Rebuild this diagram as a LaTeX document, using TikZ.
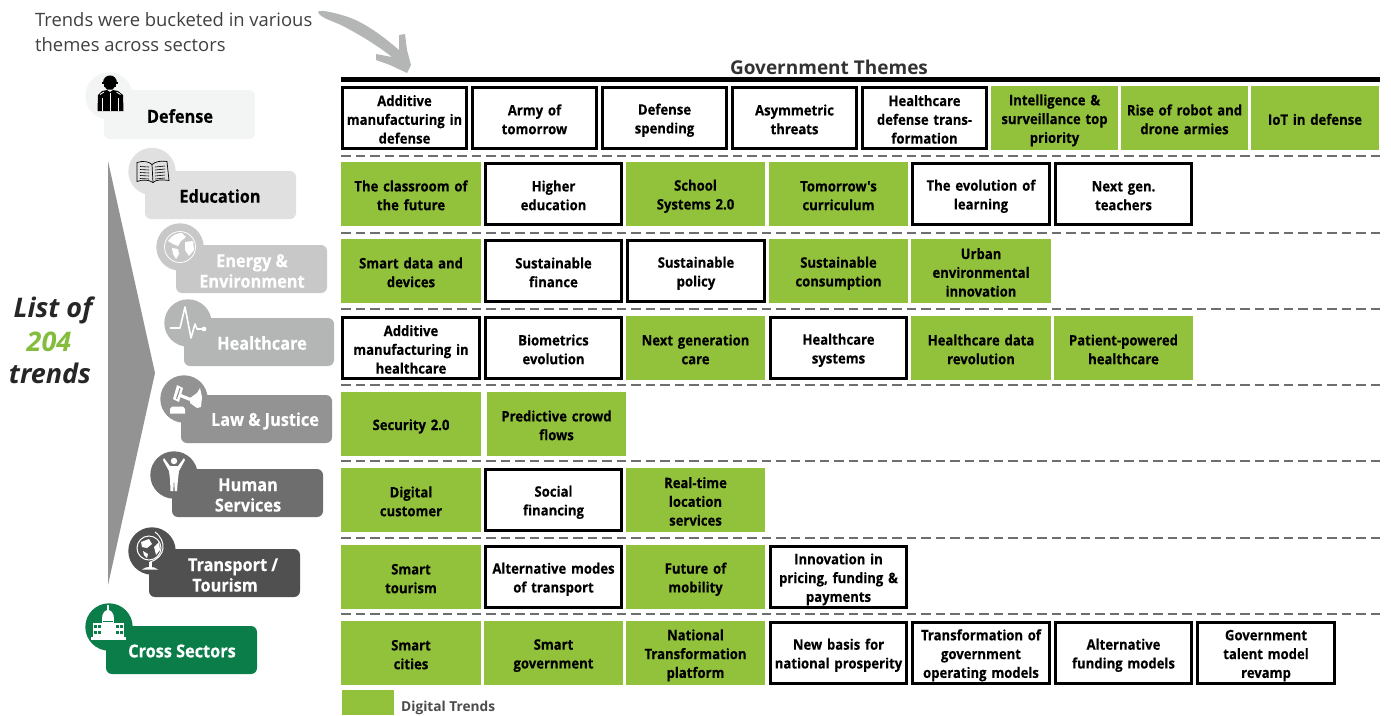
\documentclass[tikz,border=0pt]{standalone}
\usepackage{fontspec}
\setmainfont{Open Sans}
\newfontfamily\cellfont[FakeStretch=0.91,BoldFeatures={FakeBold=0.25}]{Open Sans}
\definecolor{dgreen}{HTML}{92C13C}
\definecolor{lgreen}{HTML}{84BD3C}
\definecolor{dashg}{HTML}{6D6E70}
\definecolor{arrowg}{HTML}{B4B6B5}
\definecolor{secA}{HTML}{F3F5F5}
\definecolor{secB}{HTML}{E0E0E0}
\definecolor{secC}{HTML}{C8C8C8}
\definecolor{secD}{HTML}{B4B6B5}
\definecolor{secE}{HTML}{939393}
\definecolor{secF}{HTML}{6D6E6D}
\definecolor{secG}{HTML}{505050}
\definecolor{secH}{HTML}{0A7D49}
\tikzset{
  cellbase/.style={anchor=center,align=center,inner sep=0pt,text=black,
    font=\cellfont\fontsize{14.4}{18.8}\selectfont\bfseries},
  gbox/.style={cellbase,fill=dgreen},
  wbox/.style={cellbase,draw=black,line width=3pt,fill=white},
  seclabel/.style={font=\cellfont\fontsize{17.9}{20.5}\selectfont\bfseries,align=center,inner sep=0pt,text=white},
  secbox/.style={rounded corners=6pt},
  rowsep/.style={draw=dashg,line width=2.2pt,dash pattern=on 9.5pt off 5pt},
  trendtxt/.style={font=\fontsize{27}{31}\selectfont\bfseries\itshape,inner sep=0pt,text=black!85},
}
\newcommand{\celltxt}[1]{\rule{0pt}{15.6pt}#1\rule[-2pt]{0pt}{2pt}}
% \gc/\wc: name, x1, x2, top y, text
\newcommand{\gc}[5]{\node[gbox,minimum width={(#3-#2)*1pt},minimum height=64pt,text width={(#3-#2-2)*1pt}] (#1) at ({(#2+#3)/2},{#4+32}) {\celltxt{#5}};}
\newcommand{\wc}[5]{\node[wbox,minimum width={(#3-#2-3)*1pt},minimum height=61pt,text width={(#3-#2-6)*1pt}] (#1) at ({(#2+#3)/2},{#4+32}) {\celltxt{#5}};}
\newcommand{\sector}[8]{% name, cx, cy, x1, x2, y1, y2, colour
  \fill[#8] (#2,#3) circle (23.7pt);
  \fill[#8,secbox] (#4,#6) rectangle (#5,#7);
  \coordinate (#1) at (#2,#3);}
\begin{document}
\begin{tikzpicture}[x=1pt,y=-1pt]
\useasboundingbox (0,0) rectangle (1391,715);
% annotation
\node[anchor=west,inner sep=0pt,align=left,text=black!75,font=\fontsize{18.4}{25}\selectfont] (note) at (35,32) {Trends were bucketed in various\\themes across sectors};
\fill[arrowg,line join=round] (318,12) .. controls (320,9) and (335,13) .. (345,16) .. controls (365,22) and (385,38) .. (399,50)
  -- (399,35) -- (405,34) -- (407,50) -- (411,65) -- (407,73) -- (390,65) -- (376,60) -- (376,54) -- (392,57)
  .. controls (378,46) and (362,36) .. (343,26) .. controls (333,21) and (320,18) .. (318,12) -- cycle;
% header
\node[font=\fontsize{19}{22}\selectfont\bfseries,text=black!80,inner sep=0pt] (gov) at (829,67) {Government Themes};
\coordinate (tl) at (341,79.5); \coordinate (tr) at (1380,79.5);
\draw[line width=5pt] (tl) -- (tr);
% row separators
\foreach \yy in {156,233,309,385,461,538,614}{
  \draw[rowsep] (341,\yy) -- (1380,\yy);
}
% Row 1
\wc{a1}{341}{468}{86}{Additive\\manufacturing in\\defense}
\wc{a2}{471}{598}{86}{Army of\\tomorrow}
\wc{a3}{601}{728}{86}{Defense\\spending}
\wc{a4}{731}{858}{86}{Asymmetric\\threats}
\wc{a5}{861}{988}{86}{Healthcare\\defense trans-\\formation}
\gc{a6}{991}{1118}{86}{Intelligence \&\\surveillance top\\priority}
\gc{a7}{1121}{1248}{86}{Rise of robot and\\drone armies}
\gc{a8}{1251}{1379}{86}{IoT in defense}
% Row 2
\gc{b1}{341}{481}{162}{The classroom of\\the future}
\wc{b2}{484}{623}{162}{Higher\\education}
\gc{b3}{626}{765}{162}{School\\Systems 2.0}
\gc{b4}{769}{908}{162}{Tomorrow's\\curriculum}
\wc{b5}{911}{1051}{162}{The evolution of\\learning}
\wc{b6}{1054}{1193}{162}{Next gen.\\teachers}
% Row 3
\gc{c1}{341}{481}{239}{Smart data and\\devices}
\wc{c2}{484}{623}{239}{Sustainable\\finance}
\wc{c3}{626}{766}{239}{Sustainable\\policy}
\gc{c4}{769}{908}{239}{Sustainable\\consumption}
\gc{c5}{911}{1051}{239}{Urban\\environmental\\innovation}
% Row 4
\wc{d1}{341}{481}{316}{Additive\\manufacturing in\\healthcare}
\wc{d2}{484}{623}{316}{Biometrics\\evolution}
\gc{d3}{626}{765}{316}{Next generation\\care}
\wc{d4}{769}{908}{316}{Healthcare\\systems}
\gc{d5}{911}{1051}{316}{Healthcare data\\revolution}
\gc{d6}{1054}{1193}{316}{Patient-powered\\healthcare}
% Row 5
\gc{e1}{341}{481}{392}{Security 2.0}
\gc{e2}{487}{626}{392}{Predictive crowd\\flows}
% Row 6
\gc{f1}{341}{481}{468}{Digital\\customer}
\wc{f2}{484}{623}{468}{Social\\financing}
\gc{f3}{626}{765}{468}{Real-time\\location\\services}
% Row 7
\gc{g1}{341}{481}{545}{Smart\\tourism}
\wc{g2}{484}{623}{545}{Alternative modes\\of transport}
\gc{g3}{626}{765}{545}{Future of\\mobility}
\wc{g4}{769}{908}{545}{Innovation in\\pricing, funding \&\\payments}
% Row 8
\gc{h1}{341}{481}{621}{Smart\\cities}
\gc{h2}{484}{623}{621}{Smart\\government}
\gc{h3}{626}{765}{621}{National\\Transformation\\platform}
\wc{h4}{769}{908}{621}{New basis for\\national prosperity}
\wc{h5}{911}{1051}{621}{Transformation of\\government\\operating models}
\wc{h6}{1054}{1193}{621}{Alternative\\funding models}
\wc{h7}{1196}{1336}{621}{Government\\talent model\\revamp}
% legend
\fill[dgreen] (342,690) rectangle (394,715);
\node[anchor=west,inner sep=0pt,font=\fontsize{13.7}{15}\selectfont\bfseries,text=black!70] (leg) at (401,708) {Digital Trends};
% left wedge and text
\fill[secE] (108,161) -- (155,373) -- (108,585) -- cycle;
\node[trendtxt] (l1) at (53,310) {List of};
\node[trendtxt,text=lgreen] (l2) at (49,342) {204};
\node[trendtxt] (l3) at (50,373) {trends};
% sectors
\sector{s1}{109}{96}{104}{255}{90}{139}{secA}
\sector{s2}{152}{171.5}{145}{296}{171}{219}{secB}
\sector{s3}{180}{247}{176}{327}{245}{293}{secC}
\sector{s4}{188}{323}{184}{334}{318}{366}{secD}
\sector{s5}{184}{399}{181}{332}{395}{443}{secE}
\sector{s6}{174}{475}{172}{323}{469}{517}{secF}
\sector{s7}{152}{551}{149}{300}{549}{597}{secG}
\sector{s8}{109}{627}{106}{257}{626}{674}{secH}
\node[seclabel,text=black] (t1) at (180,116) {Defense};
\node[seclabel,text=black] (t2) at (220,196) {Education};
\node[seclabel] (t3) at (252,271) {Energy \&\\Environment};
\node[seclabel] (t4) at (262,343) {Healthcare};
\node[seclabel] (t5) at (265,421) {Law \& Justice};
\node[seclabel] (t6) at (248,495) {Human\\Services};
\node[seclabel] (t7) at (225,575) {\hspace*{16pt}Transport /\\Tourism};
\node[seclabel] (t8) at (182,651) {Cross Sectors};
% icon: soldier
\begin{scope}[shift={(s1)}]
  \fill[black] (-6.5,-13.5) .. controls (-6.5,-23) and (8,-23) .. (8,-13.5) -- cycle;
  \fill[black] (-7,-14) rectangle (8.5,-12);
  \fill[black] (-5.5,-12) rectangle (7,-9.5);
  \fill[black] (-4.5,-9.5) -- (6,-9.5) -- (3.5,-6.5) -- (-2,-6.5) -- cycle;
  \fill[black] (-11,-1) -- (-7,-5) -- (-2,-6) -- (1,-4) -- (4,-6) -- (9,-5) -- (14,-1) -- (14.5,15) -- (-11.5,15) -- cycle;
  \draw[white,line width=.8pt] (1,-3) -- (1,15);
  \draw[white,line width=.8pt] (-9,-1.5) -- (-5,-4);
  \draw[white,line width=.8pt] (11.5,-1.5) -- (7.5,-4);
  \draw[white,line width=.7pt] (-7,2) -- (-7,15);
  \draw[white,line width=.7pt] (9.5,2) -- (9.5,15);
\end{scope}
% icon: book
\begin{scope}[shift={(s2)},black]
  \draw[line width=.7pt,fill=secB] (-15,-9) .. controls (-9,-11) and (-3,-10) .. (0,-7) .. controls (3,-10) and (10,-11) .. (15,-10)
     -- (17,9) .. controls (10,8) and (4,8) .. (1,11) .. controls (-3,8) and (-10,8) .. (-15,10) -- cycle;
  \draw[line width=.7pt] (0,-7) -- (1,11);
  \foreach \dy in {-5,-2,1,4,7}{
    \draw[line width=.6pt] (-12,\dy) -- (-3,\dy+.5);
    \draw[line width=.6pt] (3,\dy+.5) -- (13,\dy-.5);
  }
\end{scope}
% icon: globe (energy)
\begin{scope}[shift={(s3)}]
  \draw[white,line width=.8pt,fill=secC] (0,0) circle (15.5pt);
  \fill[white] (-12,-6) .. controls (-8,-12) and (-3,-14) .. (2,-14) -- (6,-10) -- (1,-6) -- (-2,-1) -- (-7,-3) -- cycle;
  \fill[white] (-8,1) -- (-2,2) -- (-1,7) -- (-4,12) -- (-7,7) -- cycle;
  \fill[white] (5,-5) -- (13,-6) -- (14,3) -- (9,9) -- (5,3) -- cycle;
\end{scope}
% icon: ECG
\begin{scope}[shift={(s4)}]
  \draw[white,line width=1.6pt,line join=round] (-18,5) -- (-8,5) -- (-3,-16) -- (3,15) -- (7,1) -- (9,6) -- (15,6);
  \fill[white] (16,6) circle (2.4pt);
\end{scope}
% icon: gavel
\begin{scope}[shift={(s5)}]
  \fill[white] (-14,10) -- (-12,7.5) -- (-1,7.5) -- (1,10) -- (1,14.5) -- (-14,14.5) -- cycle;
  \fill[white] (-7,-14) -- (-1,-11) -- (-5,3) -- (-11,0) -- cycle;
  \fill[secE] (-4.5,-11) -- (-3.5,-10.5) -- (-7,0) -- (-8,-.5) -- cycle;
  \fill[white] (-3,-5) -- (7,-1) -- (6,2) -- (-4,-2) -- cycle;
  \fill[white] (6,-1) -- (13,-6) -- (16,-11) -- (18,-2) -- (17,8) -- (13,9) -- (6,4) -- cycle;
\end{scope}
% icon: person
\begin{scope}[shift={(s6)}]
  \fill[white] (0,-14) circle (3.2pt);
  \fill[white] (-10,-17) -- (-4,-9) -- (4,-9) -- (10,-17) -- (11,-15) -- (5,-4) -- (4,4) -- (3,16) -- (0.7,16) -- (0,3) -- (-0.7,16) -- (-3.5,16) -- (-4,4) -- (-5,-4) -- (-11,-15) -- cycle;
\end{scope}
% icon: globe on stand
\begin{scope}[shift={(s7)}]
  \draw[white,line width=1pt] (-3,-3) circle (12pt);
  \draw[white,line width=1pt] (3,-19) .. controls (15,-10) and (14,6) .. (-2,11);
  \fill[white] (-11,-9) -- (-3,-12) -- (0,-7) -- (-5,-3) -- (-10,-4) -- cycle;
  \fill[white] (2,-4) -- (7,-9) -- (8,-1) -- (4,4) -- cycle;
  \fill[white] (-9,0) -- (-4,3) -- (-5,7) -- (-8,4) -- cycle;
  \fill[white] (-3.5,11) rectangle (-0.5,16);
  \fill[white] (-10,18.5) .. controls (-6,15) and (2,15) .. (6,18.5) -- cycle;
\end{scope}
% icon: capitol
\begin{scope}[shift={(s8)}]
  \fill[white] (-1.6,-22) rectangle (-0.4,-15);
  \fill[white] (-7,-8) .. controls (-7,-14) and (-4,-17) .. (-1,-17) .. controls (2,-17) and (5,-14) .. (5,-8) -- cycle;
  \fill[white] (-7,-8) rectangle (5,-3);
  \fill[secH] (-6,-6.5) rectangle (4,-5);
  \fill[white] (-16,-4) rectangle (15,10);
  \fill[white] (-18,10) rectangle (17,13);
  \foreach \xx in {-15,-11.5,7,10.5}{
    \fill[secH] (\xx,-2.5) rectangle ++(3,3.5);
    \fill[secH] (\xx,3.5) rectangle ++(3,3.5);
  }
\end{scope}
\end{tikzpicture}
\end{document}
